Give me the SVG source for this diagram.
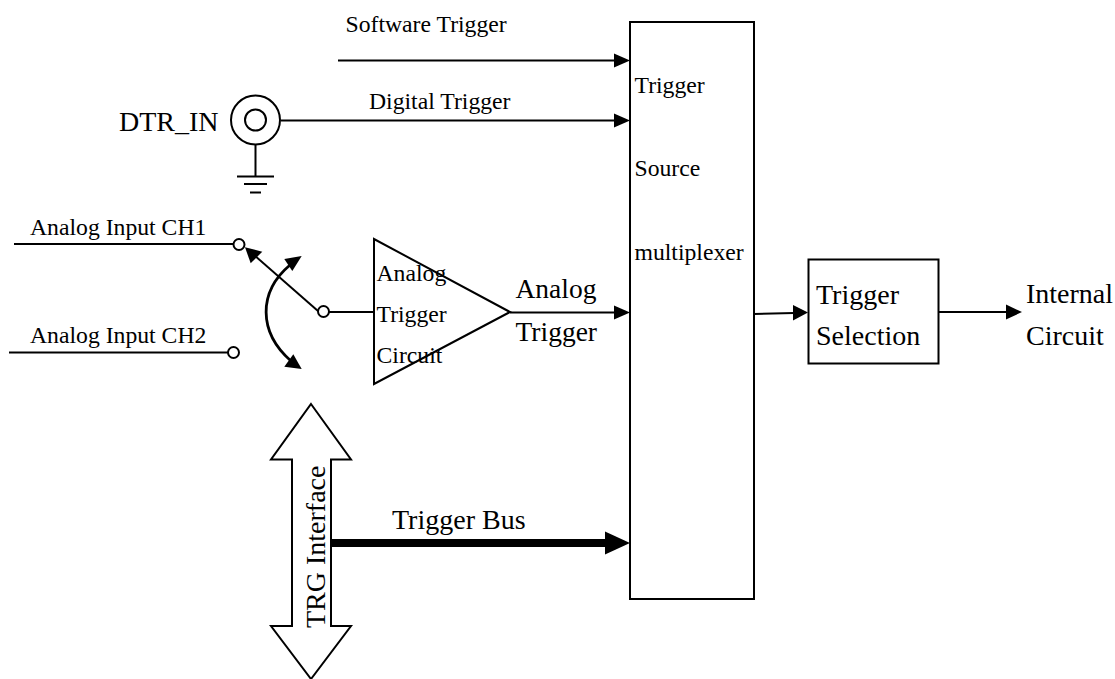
<svg xmlns="http://www.w3.org/2000/svg" width="1115" height="679" viewBox="0 0 1115 679">
<style>
text{font-family:"Liberation Serif","Times New Roman",serif;fill:#000}
.s{font-size:23.700px}.m{font-size:28px}
.l{fill:none;stroke:#000;stroke-width:2}
.b{fill:#fff;stroke:#000;stroke-width:2}
.h{fill:#000;stroke:none}
</style>
<rect width="1115" height="679" fill="#fff"/>
<g id="connectors">
<line class="l" x1="338" y1="60.500" x2="616" y2="60.500"/><polygon class="h" points="630,60.500 614,53.500 614,67.500"/>
<line class="l" x1="281" y1="120.500" x2="616" y2="120.500"/><polygon class="h" points="630,120.500 614,113.500 614,127.500"/>
<line class="l" x1="14" y1="244" x2="233" y2="244"/>
<line class="l" x1="9" y1="352.500" x2="228" y2="352.500"/>
<line class="l" x1="318" y1="311" x2="254" y2="255"/><polygon class="h" points="245,247.300 262.300,251.700 250.700,263.300"/>
<line class="l" x1="329" y1="312" x2="374" y2="312"/>
<path class="l" style="stroke-width:2.800" d="M290 265 C258 292,258 332,291 361"/>
<polygon class="h" points="301.700,256 284.300,259 292.300,271"/>
<polygon class="h" points="301.700,369 284.300,366.700 293.300,354.300"/>
<line class="l" x1="510" y1="312.500" x2="616" y2="312.500"/><polygon class="h" points="630,312.500 614,305.500 614,319.500"/>
<line class="l" x1="754" y1="314" x2="794" y2="313"/><polygon class="h" points="808,312.500 793,305 793,320.500"/>
<line class="l" x1="939" y1="312" x2="1008" y2="312"/><polygon class="h" points="1022,312 1006,304.500 1006,319.500"/>
<line x1="331" y1="543" x2="612" y2="543" stroke="#000" stroke-width="8"/><polygon class="h" points="630,543 605,531.500 605,554.500"/>
</g>
<g id="mux"><rect class="b" x="630" y="22" width="124" height="577"/>
<text class="s" x="634.500" y="93">Trigger</text><text class="s" x="634.500" y="176">Source</text><text class="s" x="634.500" y="260">multiplexer</text></g>
<g id="trigger-selection"><rect class="b" x="808.500" y="259.500" width="130" height="104"/>
<text class="m" x="816" y="304">Trigger</text><text class="m" x="816" y="345">Selection</text></g>
<g id="internal-circuit"><text class="m" x="1026" y="303">Internal</text><text class="m" x="1026" y="345">Circuit</text></g>
<g id="software-trigger"><text class="s" x="345.500" y="32">Software Trigger</text></g>
<g id="digital-trigger"><text class="s" x="369" y="109">Digital Trigger</text></g>
<g id="dtr-in"><text class="m" x="119" y="131">DTR_IN</text>
<circle class="b" cx="255.500" cy="120" r="24.500"/><circle class="b" cx="255.500" cy="120" r="10.500"/>
<line class="l" x1="255.500" y1="145" x2="255.500" y2="176"/>
<line class="l" x1="237" y1="176.500" x2="274" y2="176.500"/><line class="l" x1="244" y1="184" x2="267" y2="184"/><line class="l" x1="250" y1="192.500" x2="261" y2="192.500"/></g>
<g id="ch1"><text class="s" x="30" y="235">Analog Input CH1</text><circle class="b" cx="239" cy="244.500" r="5.500"/></g>
<g id="ch2"><text class="s" x="30" y="343">Analog Input CH2</text><circle class="b" cx="233.500" cy="352.500" r="5.500"/></g>
<g id="switch-pivot"><circle class="b" cx="323.500" cy="311.500" r="5.500"/></g>
<g id="analog-trigger-circuit"><polygon class="b" points="374,239 374,384 510,312"/>
<text class="s" x="376.500" y="281">Analog</text><text class="s" x="376.500" y="322">Trigger</text><text class="s" x="376.500" y="363">Circuit</text></g>
<g id="analog-trigger"><text class="m" style="font-size:27.500px" x="515.500" y="298">Analog</text><text class="m" style="font-size:27.500px" x="515.500" y="341">Trigger</text></g>
<g id="trg-interface"><polygon class="b" points="311,404 351,459.500 331,459.500 331,626 351,626 311,679 271,626 292,626 292,459.500 271,459.500"/>
<text class="m" transform="translate(325,628) rotate(-90)">TRG Interface</text></g>
<g id="trigger-bus"><text class="m" x="392" y="529">Trigger Bus</text></g>
</svg>
